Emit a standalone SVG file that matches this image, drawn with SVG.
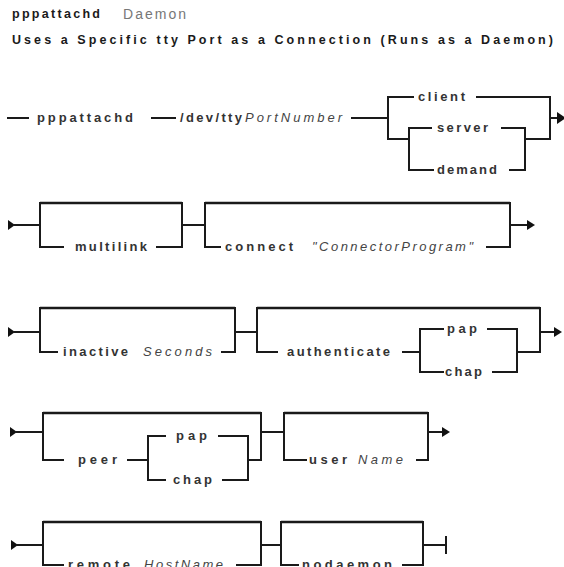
<svg xmlns="http://www.w3.org/2000/svg" width="564" height="567" viewBox="0 0 564 567">
<defs>
<style>
.ln{fill:none;stroke:#1a1a1a;stroke-width:2;stroke-linecap:square}
.tp{fill:none;stroke:#1a1a1a;stroke-width:2.5}
.kw{font-family:"Liberation Sans",Arial,sans-serif;font-size:13px;font-weight:bold;fill:#333}
.va{font-family:"Liberation Sans",Arial,sans-serif;font-size:13px;font-style:italic;fill:#444}
.hd{font-family:"Liberation Sans",Arial,sans-serif;font-size:12.5px;font-weight:bold;fill:#1a1a1a}
.lt{font-family:"Liberation Sans",Arial,sans-serif;font-size:14px;fill:#777}
.ah{fill:#111}
</style>
</defs>
<rect width="564" height="567" fill="#fff"/>
<g id="title">
<text class="hd" x="12" y="18" textLength="88" lengthAdjust="spacing">pppattachd</text>
<text class="lt" x="123" y="19" textLength="63" lengthAdjust="spacing">Daemon</text>
<text class="hd" x="12" y="44" textLength="541" lengthAdjust="spacing">Uses a Specific tty Port as a Connection (Runs as a Daemon)</text>
</g>
<g id="connectors">
<!-- row 1 -->
<path class="ln" d="M8 118H28M152 118H175M352 118H388M388 97V139H409M409 128V170M388 97H413M477 97H550V139H525M409 128H431M502 128H525V170H510M409 170H433M550 118H557"/>
<path class="ah" d="M557 112L566 118L557 124Z"/>
<!-- row 2 -->
<path class="ah" d="M8 220L15 225L8 230Z"/>
<path class="ln" d="M15 225H40M40 203V247H63M157 247H182V203M182 225H205M205 203V247H220M487 247H510V203M510 225H528"/>
<path class="tp" d="M40 203H182M205 203H510"/>
<path class="ah" d="M527 220L535 225L527 230Z"/>
<!-- row 3 -->
<path class="ah" d="M8 327L15 332L8 337Z"/>
<path class="ln" d="M15 332H40M40 308V352H57M222 352H235V308M235 332H257M257 308V352H277M403 352H420M420 329V372M420 329H443M488 329H517V372H493M420 372H443M517 352H540V308M540 332H555"/>
<path class="tp" d="M40 308H235M257 308H540"/>
<path class="ah" d="M554 327L562 332L554 337Z"/>
<!-- row 4 -->
<path class="ah" d="M10 427L17 432L10 437Z"/>
<path class="ln" d="M17 432H43M43 413V460H63M128 460H148M148 436V480M148 436H165M219 436H248V480H223M148 480H165M248 460H261V413M261 432H284M284 413V460H306M417 460H428V413M428 432H443"/>
<path class="tp" d="M43 413H261M284 413H428"/>
<path class="ah" d="M442 427L450 432L442 437Z"/>
<!-- row 5 -->
<path class="ah" d="M11 540L18 545L11 550Z"/>
<path class="ln" d="M18 545H43M43 522V565H63M237 565H261V522M261 545H281M281 522V565H298M403 565H423V522M423 545H446M446 537V553"/>
<path class="tp" d="M43 522H261M281 522H423"/>
</g>
<g id="row1">
<text class="kw" x="37" y="122" textLength="96" lengthAdjust="spacing">pppattachd</text>
<text class="kw" x="180" y="122" textLength="62" lengthAdjust="spacing">/dev/tty</text>
<text class="va" x="245" y="122" textLength="97" lengthAdjust="spacing">PortNumber</text>
<text class="kw" x="418" y="101" textLength="47" lengthAdjust="spacing">client</text>
<text class="kw" x="437" y="132" textLength="51" lengthAdjust="spacing">server</text>
<text class="kw" x="437" y="174" textLength="60" lengthAdjust="spacing">demand</text>
</g>
<g id="row2">
<text class="kw" x="75" y="251" textLength="72" lengthAdjust="spacing">multilink</text>
<text class="kw" x="225" y="251" textLength="68" lengthAdjust="spacing">connect</text>
<text class="va" x="312" y="251" textLength="161" lengthAdjust="spacing">"ConnectorProgram"</text>
</g>
<g id="row3">
<text class="kw" x="63" y="356" textLength="65" lengthAdjust="spacing">inactive</text>
<text class="va" x="143" y="356" textLength="69" lengthAdjust="spacing">Seconds</text>
<text class="kw" x="287" y="356" textLength="103" lengthAdjust="spacing">authenticate</text>
<text class="kw" x="447" y="333" textLength="30" lengthAdjust="spacing">pap</text>
<text class="kw" x="445" y="376" textLength="37" lengthAdjust="spacing">chap</text>
</g>
<g id="row4">
<text class="kw" x="78" y="464" textLength="39" lengthAdjust="spacing">peer</text>
<text class="kw" x="176" y="440" textLength="31" lengthAdjust="spacing">pap</text>
<text class="kw" x="173" y="484" textLength="39" lengthAdjust="spacing">chap</text>
<text class="kw" x="309" y="464" textLength="38" lengthAdjust="spacing">user</text>
<text class="va" x="358" y="464" textLength="45" lengthAdjust="spacing">Name</text>
</g>
<g id="row5">
<text class="kw" x="68" y="569" textLength="62" lengthAdjust="spacing">remote</text>
<text class="va" x="144" y="569" textLength="79" lengthAdjust="spacing">HostName</text>
<text class="kw" x="302" y="569" textLength="90" lengthAdjust="spacing">nodaemon</text>
</g>
</svg>
